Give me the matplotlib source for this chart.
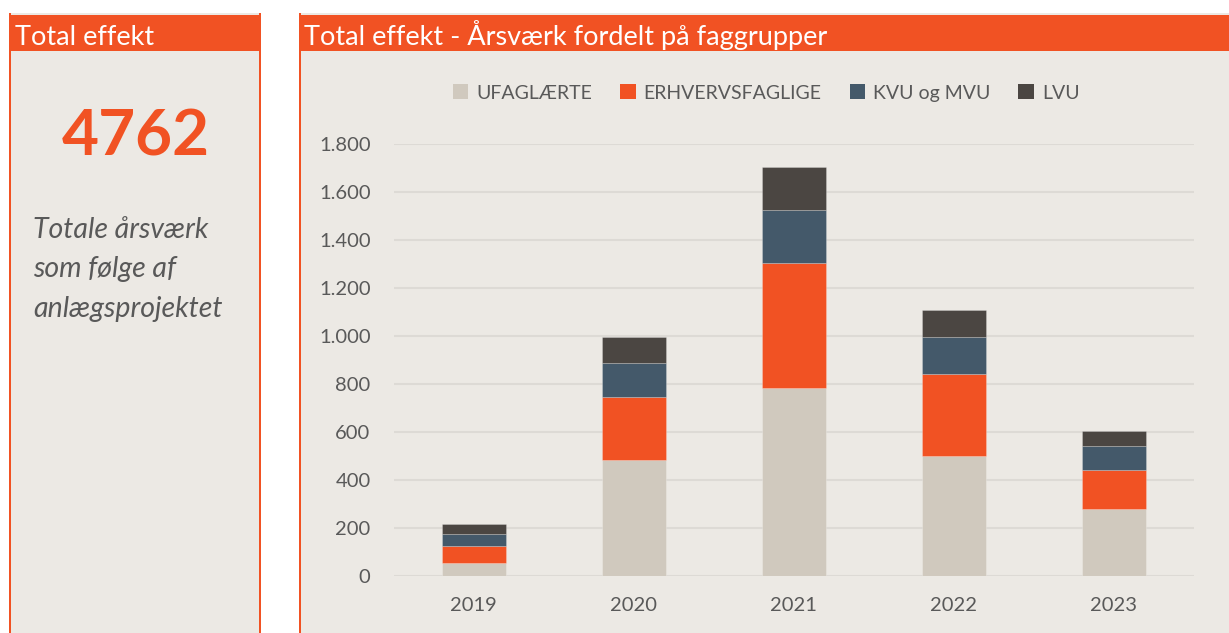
import matplotlib
matplotlib.use("Agg")
import matplotlib.pyplot as plt
from matplotlib.patches import Rectangle, Patch
from matplotlib.ticker import FuncFormatter, MultipleLocator
import numpy as np

years = ["2019", "2020", "2021", "2022", "2023"]
series_names = ["UFAGLÆRTE", "ERHVERVSFAGLIGE", "KVU og MVU", "LVU"]
ufaglaerte = [53, 483, 785, 500, 279]
erhvervsfaglige = [72, 261, 518, 340, 162]
kvu_mvu = [49, 144, 221, 155, 99]
lvu = [42, 106, 179, 112, 64]
total_label = "4762"
left_title = "Total effekt"
right_title = "Total effekt - Årsværk fordelt på faggrupper"
caption_lines = ["Totale årsværk", "som følge af", "anlægsprojektet"]

ORANGE = "#F15223"
BG = "#ECE9E4"
colors = ["#D0C9BE", ORANGE, "#44596A", "#4B4642"]
TXT = "#595959"
GRID = "#DDDAD5"
FONT = ["Lato", "DejaVu Sans"]
plt.rcParams["font.family"] = FONT

W, H = 1229, 633
fig = plt.figure(figsize=(W / 100, H / 100), dpi=100)
fig.patch.set_facecolor("white")


def rect(x0, y0, x1, y1, color):
    fig.add_artist(Rectangle((x0 / W, 1 - y1 / H), (x1 - x0) / W, (y1 - y0) / H,
                             transform=fig.transFigure, facecolor=color,
                             edgecolor="none", zorder=0))


def text(x, y, s, **kw):
    fig.text(x / W, 1 - y / H, s, **kw)


# left panel
rect(10, 13, 261, H, BG)
rect(9, 13, 11, H, ORANGE)
rect(259, 13, 261, H, ORANGE)
rect(9, 15, 261, 51, ORANGE)
# right panel
rect(299, 13, W, H, BG)
rect(299, 13, 301, H, ORANGE)
rect(299, 15, W, 51, ORANGE)

text(15, 45, left_title, color="white", fontsize=19.5, va="baseline", ha="left")
text(304, 45, right_title, color="white", fontsize=19.5, va="baseline", ha="left")
text(136, 155, total_label, color=ORANGE, fontsize=46, fontweight="bold",
     va="baseline", ha="center")
for i, line in enumerate(caption_lines):
    text(33, 238 + i * 39.5, line, color=TXT, fontsize=20.5, fontstyle="italic",
         va="baseline", ha="left")

# chart axes
ax = fig.add_axes([393.5 / W, (H - 576) / H, 800 / W, 432 / H])
ax.set_facecolor("none")
x = np.arange(len(years))
bottom = np.zeros(len(years))
for vals, c, name in zip([ufaglaerte, erhvervsfaglige, kvu_mvu, lvu], colors, series_names):
    ax.bar(x, vals, width=0.4, bottom=bottom, color=c, label=name, zorder=3,
           edgecolor=(1, 1, 1, 0.25), linewidth=0.6)
    bottom += np.array(vals)

ax.set_xlim(-0.5, len(years) - 0.5)
ax.set_ylim(0, 1800)
ax.yaxis.set_major_locator(MultipleLocator(200))
ax.yaxis.set_major_formatter(FuncFormatter(lambda v, p: f"{int(v):,}".replace(",", ".")))
ax.set_xticks(x)
ax.set_xticklabels(years)
ax.grid(axis="y", color=GRID, linewidth=1.5, zorder=0)
ax.set_axisbelow(True)
for s in ax.spines.values():
    s.set_visible(False)
ax.tick_params(axis="both", length=0, labelsize=14.5, labelcolor=TXT)
ax.tick_params(axis="y", pad=16.5)
ax.tick_params(axis="x", pad=15)

handles = [Patch(facecolor=c, edgecolor="none") for c in colors]
fig.legend(handles, series_names, loc="center", bbox_to_anchor=(766 / W, 1 - 93 / H),
           ncol=4, frameon=False, fontsize=14, labelcolor=TXT,
           handlelength=0.8, handleheight=0.8, handletextpad=0.4, columnspacing=1.45)

fig.savefig("out.png", dpi=100, facecolor="white")
